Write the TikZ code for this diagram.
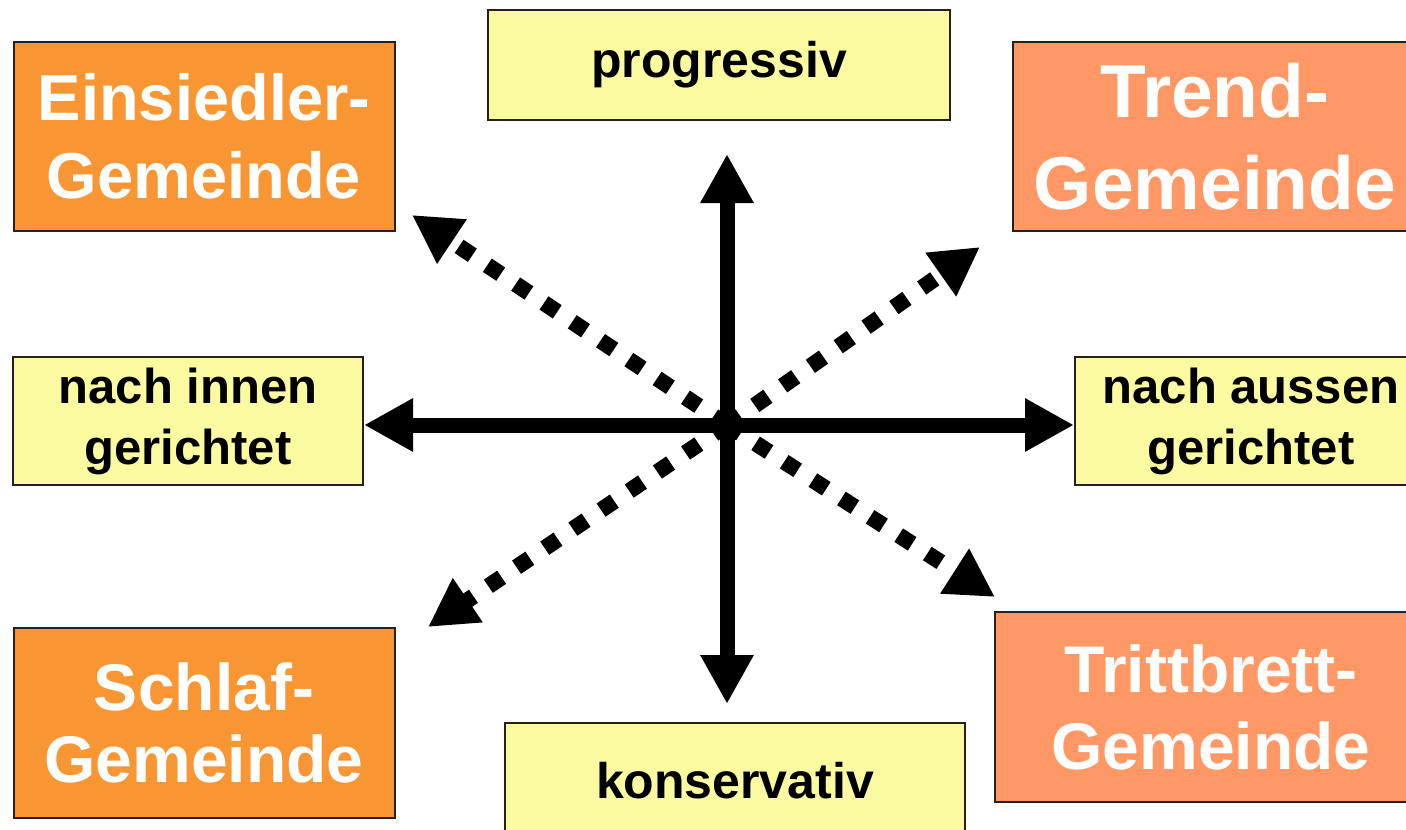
\documentclass[tikz,border=0pt]{standalone}
\usepackage{fontspec}
\setmainfont{Liberation Sans}
\usetikzlibrary{arrows.meta}
\definecolor{orangeA}{RGB}{248,150,52}
\definecolor{salmonB}{RGB}{255,152,100}
\definecolor{paleyellow}{RGB}{250,250,160}
\definecolor{boxline}{RGB}{40,32,30}
\begin{document}
\begin{tikzpicture}[x=1pt,y=-1pt,
  box/.style={draw=boxline, line width=2pt, rectangle, inner sep=0pt, align=center},
  typebox/.style={box, text=white},
  axisbox/.style={box, fill=paleyellow, text=black},
  axisarrow/.style={line width=15pt, -{Triangle[length=49pt,width=50pt]}},
  diagarrow/.style={line width=16pt, dash pattern=on 16pt off 18pt, -{Triangle[length=48pt,width=50pt]}}
]
\clip (0,0) rectangle (1406,830);
\fill[white] (0,0) rectangle (1406,830);

% type boxes
\node[typebox, fill=orangeA, minimum width=381pt, minimum height=189pt,
      font=\bfseries\fontsize{65}{78}\selectfont] (einsiedler) at (204,136.5) {Einsiedler-\\Gemeinde};
\node[typebox, fill=salmonB, minimum width=404pt, minimum height=189pt,
      font=\bfseries\fontsize{75}{92}\selectfont] (trend) at (1215,136.5) {Trend-\\Gemeinde};
\node[typebox, fill=salmonB, minimum width=432pt, minimum height=190pt,
      font=\bfseries\fontsize{66}{77}\selectfont] (trittbrett) at (1211,707) {Trittbrett-\\Gemeinde};
\node[typebox, fill=orangeA, minimum width=381pt, minimum height=190pt,
      font=\bfseries\fontsize{66}{72}\selectfont] (schlaf) at (204,723) {Schlaf-\\Gemeinde};

% axis boxes
\node[axisbox, minimum width=462pt, minimum height=110pt,
      font=\bfseries\fontsize{50}{60}\selectfont] (prog) at (719,65) {progressiv};
\node[axisbox, minimum width=460pt, minimum height=116pt,
      font=\bfseries\fontsize{50}{60}\selectfont] (kons) at (735,781) {konservativ};
\node[axisbox, minimum width=350pt, minimum height=128pt,
      font=\bfseries\fontsize{49}{61}\selectfont] (innen) at (188,421) {nach innen\\gerichtet};
\node[axisbox, minimum width=352pt, minimum height=128pt,
      font=\bfseries\fontsize{49}{61}\selectfont] (aussen) at (1251,421) {nach aussen\\gerichtet};

% center and diagonal ends
\coordinate (c) at (727,425);
\coordinate (nw) at (412,215);
\coordinate (ne) at (980,247);
\coordinate (se) at (995,597);
\coordinate (sw) at (428,627);

% dotted diagonals
\draw[diagarrow] (c) -- (nw);
\draw[diagarrow] (c) -- (ne);
\draw[diagarrow] (c) -- (se);
\draw[diagarrow] (c) -- (sw);

% solid axes
\draw[axisarrow, shorten >=33pt] (c) -- (c |- prog.south);
\draw[axisarrow, shorten >=18pt] (c) -- (c |- kons.north);
\draw[axisarrow] (c) -- (c -| innen.east);
\draw[axisarrow] (c) -- (c -| aussen.west);
\fill[black] (c) circle (12pt);
\end{tikzpicture}
\end{document}
